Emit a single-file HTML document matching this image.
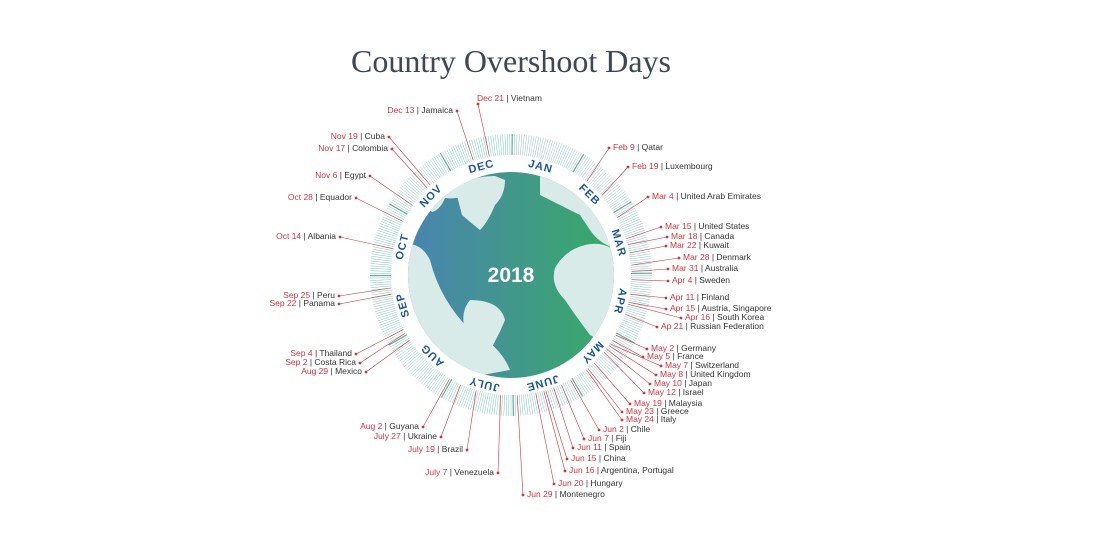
<!DOCTYPE html>
<html><head><meta charset="utf-8">
<style>
html,body{margin:0;padding:0;background:#fff;}
body{width:1116px;height:544px;overflow:hidden;}
</style></head>
<body>
<svg id="s" width="1116" height="544" xmlns="http://www.w3.org/2000/svg" style="font-family:'Liberation Sans',sans-serif">
<defs>
<linearGradient id="g" x1="0" x2="1" y1="0" y2="0">
<stop offset="0" stop-color="#4a84b2"/><stop offset="1" stop-color="#38aa66"/>
</linearGradient>
<clipPath id="cp"><circle cx="511" cy="275" r="103"/></clipPath>
</defs>
<text x="511" y="72" text-anchor="middle" font-family="Liberation Serif,serif" font-size="32" fill="#3b4856">Country Overshoot Days</text>
<g id="ring"></g>
<circle cx="511" cy="275" r="103" fill="url(#g)"/>
<g clip-path="url(#cp)" fill="#d9ebe9">
<path d="M400 170 L470 170 Q478 180 470 192 Q460 200 445 198 Q440 210 432 212 L425 205 Q415 210 410 225 L400 230 Z"/>
<path d="M455 188 Q470 176 495 176 L505 180 Q505 195 495 205 Q488 222 480 230 Q470 222 462 215 Z"/>
<path d="M400 245 Q420 240 430 260 Q440 300 470 330 Q500 345 510 370 L400 390 Z"/>
<path d="M540 176 Q560 175 590 190 L620 210 L620 250 Q600 245 590 230 L580 215 Q560 205 540 195 Z"/>
<path d="M585 245 Q605 240 620 255 L625 340 Q605 345 590 335 Q575 315 565 300 Q550 285 555 268 Q565 250 585 245 Z"/>
<path d="M470 300 Q500 300 505 320 Q495 345 480 365 Q470 350 465 330 Q460 312 470 300 Z"/>
</g>
<text x="511" y="282" text-anchor="middle" font-size="21" font-weight="bold" fill="#fff">2018</text>
<g id="months"></g>
<g id="lab"></g>
</svg>
<script>
var cx=511,cy=275,ns="http://www.w3.org/2000/svg";
function el(t,a,p){var e=document.createElementNS(ns,t);for(var k in a)e.setAttribute(k,a[k]);p.appendChild(e);return e;}
function pt(ang,r){var a=ang*Math.PI/180;return [cx+r*Math.sin(a),cy-r*Math.cos(a)];}
var ring=document.getElementById('ring');
var mdays=[31,28,31,30,31,30,31,31,30,31,30,31],starts=[],s=0;
for(var i=0;i<12;i++){starts.push(s);s+=mdays[i];}
for(var d=0;d<365;d++){var ang=(d+0.5)/365*360;var p1=pt(ang,120),p2=pt(ang,141);
var t=d/365;var col='rgb('+Math.round(110-40*t)+','+Math.round(170+10*t)+','+Math.round(190-30*t)+')';
var w=0.5;if(starts.indexOf(d)>=0){col='#2f8f73';w=1.2;}
el('line',{x1:p1[0],y1:p1[1],x2:p2[0],y2:p2[1],stroke:col,'stroke-width':w,opacity:0.75},ring);}
var mn=['JAN','FEB','MAR','APR','MAY','JUNE','JULY','AUG','SEP','OCT','NOV','DEC'];
var mg=document.getElementById('months');
for(var i=0;i<12;i++){var ang=(starts[i]+mdays[i]/2)/365*360;var p=pt(ang,112);var rot=ang;
var tx=el('text',{x:p[0],y:p[1],'text-anchor':'middle','dominant-baseline':'central','font-size':'11','font-weight':'bold','letter-spacing':'1',fill:'#1a5596',transform:'rotate('+rot+' '+p[0]+' '+p[1]+')'},mg);tx.textContent=mn[i];}
var L=[
['Feb 9','Qatar',613,147,40,1],['Feb 19','Luxembourg',632,166,50,1],['Mar 4','United Arab Emirates',652,196,63,1],
['Mar 15','United States',665,226,74,1],['Mar 18','Canada',671,236,77,1],['Mar 22','Kuwait',670,245,81,1],
['Mar 28','Denmark',683,257,87,1],['Mar 31','Australia',672,268,90,1],['Apr 4','Sweden',672,280,94,1],
['Apr 11','Finland',670,297,101,1],['Apr 15','Austria, Singapore',670,308,105,1],['Apr 16','South Korea',685,317,106,1],
['Ap 21','Russian Federation',661,326,111,1],['May 2','Germany',651,348,122,1],['May 5','France',647,356,125,1],
['May 7','Switzerland',665,365,127,1],['May 8','United Kingdom',660,374,128,1],['May 10','Japan',654,383,130,1],
['May 12','Israel',648,392,132,1],['May 19','Malaysia',634,403,139,1],['May 23','Greece',626,411,143,1],
['May 24','Italy',626,419,144,1],['Jun 2','Chile',603,429,153,1],['Jun 7','Fiji',588,438,158,1],
['Jun 11','Spain',577,447,162,1],['Jun 15','China',571,458,166,1],['Jun 16','Argentina, Portugal',569,470,167,1],
['Jun 20','Hungary',558,483,171,1],['Jun 29','Montenegro',527,494,180,1],['Dec 21','Vietnam',477,98,355,2],
['Dec 13','Jamaica',453,110,347,0],['Nov 19','Cuba',385,136,323,0],['Nov 17','Colombia',388,148,321,0],
['Nov 6','Egypt',366,175,310,0],['Oct 28','Equador',352,197,301,0],['Oct 14','Albania',336,236,287,0],
['Sep 25','Peru',335,295,268,0],['Sep 22','Panama',335,303,265,0],['Sep 4','Thailand',352,353,247,0],
['Sep 2','Costa Rica',356,362,245,0],['Aug 29','Mexico',362,371,241,0],['Aug 2','Guyana',419,426,214,0],
['July 27','Ukraine',437,436,208,0],['July 19','Brazil',463,449,200,0],['July 7','Venezuela',494,472,188,0]];
var lg=document.getElementById('lab');
L.forEach(function(l){var ang=(l[4]-0.5)/365*360;var p=pt(ang,121);var dx,dy;
var tx=el('text',{x:l[2],y:l[3]+3,'font-size':'8.5',fill:'#333','text-anchor':l[5]==0?'end':'start'},lg);
var a=el('tspan',{fill:'#d2343c'},tx);a.textContent=l[0];var b=el('tspan',{},tx);b.textContent=' | '+l[1];
if(l[5]==1){dx=l[2]-4;dy=l[3]+1;}else if(l[5]==0){dx=l[2]+4;dy=l[3]+1;}else{dx=l[2]+1;dy=l[3]+6;}
el('line',{x1:p[0],y1:p[1],x2:dx,y2:dy,stroke:'#d2343c','stroke-width':0.6},lg);
el('circle',{cx:dx,cy:dy,r:1.4,fill:'#d2343c'},lg);});
</script>
</body></html>
